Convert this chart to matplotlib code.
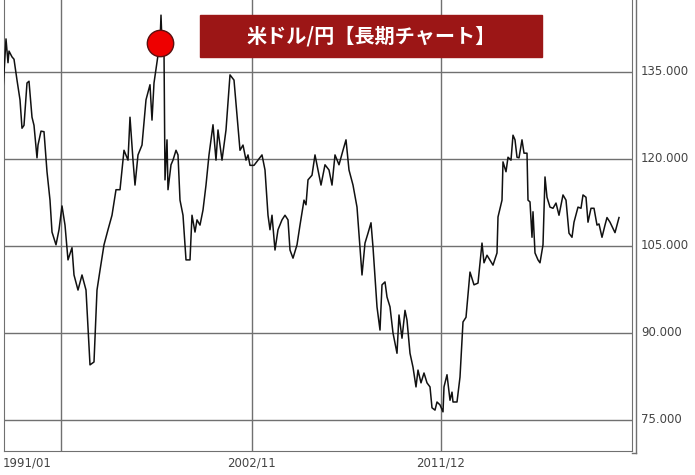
import matplotlib
matplotlib.use("Agg")
import matplotlib.pyplot as plt
from matplotlib.patches import Rectangle
from matplotlib.lines import Line2D

t = [3,6,8,9,12,14,17,20,22,24,27,29,32,34,37,38,41,44,47,50,52,56,59,62,65,68,72,74,78,82,86,90,94,97,100,104,108,112,116,120,124,128,130,133,135,138,142,146,150,152,154,158,160,161,162,164,165,167,168,171,173,176,178,180,183,186,190,192,195,197,200,203,206,209,213,216,218,222,226,230,234,237,240,243,246,248,250,254,258,262,265,268,270,272,275,278,282,285,288,290,293,297,300,304,306,308,312,315,318,321,325,329,332,335,339,343,346,349,353,357,360,362,365,368,371,373,377,380,382,385,387,390,393,397,399,402,405,407,410,413,416,418,421,424,427,430,432,435,437,440,443,444,447,450,452,453,457,460,463,466,470,474,478,482,484,487,493,497,498,502,503,506,508,511,513,515,517,519,522,524,527,528,530,532,533,535,538,540,543,545,547,550,553,556,559,563,566,569,572,574,578,581,583,586,588,591,594,597,599,602,605,607,610,615,619]
rate = [131.9,140.7,136.6,138.6,137.6,137.2,133.6,130.2,125.3,125.8,133.1,133.4,127.2,125.8,120.2,122.4,124.8,124.7,117.8,112.9,107.4,105.2,107.8,111.9,108.6,102.6,104.7,100.0,97.4,100.0,97.4,84.5,85.0,97.4,100.8,105.2,107.8,110.3,114.7,114.7,121.5,119.8,127.2,119.8,115.5,120.7,122.4,130.2,132.8,126.7,133.1,137.9,140.0,144.8,140.0,138.8,116.4,123.3,114.7,119.0,119.8,121.5,120.7,112.9,110.3,102.6,102.6,110.3,107.4,109.5,108.6,111.2,115.5,120.7,125.9,119.8,125.0,119.8,125.0,134.5,133.6,127.6,121.5,122.4,119.8,120.7,118.9,118.9,119.8,120.7,118.1,110.3,107.8,110.3,104.3,107.8,109.5,110.3,109.5,104.3,102.9,105.2,108.6,112.9,112.1,116.4,117.2,120.7,118.1,115.5,119.0,118.1,115.5,120.7,119.0,121.5,123.3,118.1,115.5,111.7,104.8,100.0,105.5,107.2,109.0,104.8,94.5,90.5,98.3,98.8,96.2,94.5,90.0,86.5,93.1,89.1,93.9,92.2,86.5,84.1,80.7,83.6,81.4,83.1,81.4,80.7,77.1,76.7,78.1,77.6,76.4,80.7,82.8,78.4,79.8,78.1,78.1,82.4,91.9,92.7,100.5,98.3,98.6,105.5,102.1,103.4,101.7,103.8,110.0,112.9,119.5,117.8,120.3,119.8,124.1,123.3,120.3,120.2,123.3,121.0,121.0,112.9,112.6,106.5,110.9,103.8,102.6,102.1,105.2,116.9,113.4,111.7,111.5,112.4,110.3,113.8,112.9,107.2,106.5,109.1,111.7,111.5,113.8,113.4,109.1,111.5,111.5,108.6,108.8,106.5,108.6,109.9,109.1,107.3,109.9]
y_ticks = [75, 90, 105, 120, 135]
y_labels = ["75.000", "90.000", "105.000", "120.000", "135.000"]
x_grid = [61, 252, 441]
x_label_pos = [27, 252, 441]
x_labels = ["1991/01", "2002/11", "2011/12"]
peak_t, peak_v = 160, 140.0
title = "米ドル/円【長期チャート】"

W, H = 695, 475
fig = plt.figure(figsize=(W/100, H/100), dpi=100)
ax = fig.add_axes([4/W, (H-451)/H, 628/W, 451/H])
ax.set_xlim(4, 632)
ax.set_ylim(69.65, 147.41)
for v in y_ticks:
    ax.axhline(v, color="#707070", lw=1, zorder=1)
for g in x_grid:
    ax.axvline(g, color="#707070", lw=1, zorder=1)
ax.plot(t, rate, color="#111111", lw=1.1, zorder=3)
ax.plot([peak_t], [peak_v], "o", ms=19, mfc="#ee0000", mec="#5a1010", mew=1, zorder=4)
ax.set_xticks([]); ax.set_yticks([])
ax.spines["top"].set_visible(False)
for s in ["left", "right", "bottom"]:
    ax.spines[s].set_color("#707070")
fig.add_artist(Line2D([636/W, 636/W], [(H-453)/H, 1], color="#707070", lw=1))
fig.add_artist(Line2D([632/W, 636/W], [(H-453)/H, (H-453)/H], color="#707070", lw=1))
for v, l in zip(y_ticks, y_labels):
    ax.text(1.0 + 9/628, v, l, transform=ax.get_yaxis_transform(), ha="left", va="center",
            fontsize=8.5, color="#444444", clip_on=False)
for p, l in zip(x_label_pos, x_labels):
    ax.text(p, -12/451, l, transform=ax.get_xaxis_transform(), ha="center", va="center",
            fontsize=8.5, color="#444444", clip_on=False)
fig.add_artist(Rectangle((200/W, (H-57)/H), 342/W, 42/H, color="#9c1616", zorder=5))
fig.text(371/W, (H-36)/H, title, ha="center", va="center", color="white", fontsize=14.5,
         fontweight="bold", family=["Noto Sans CJK JP", "DejaVu Sans"], zorder=6)
fig.savefig("out.png", dpi=100)
